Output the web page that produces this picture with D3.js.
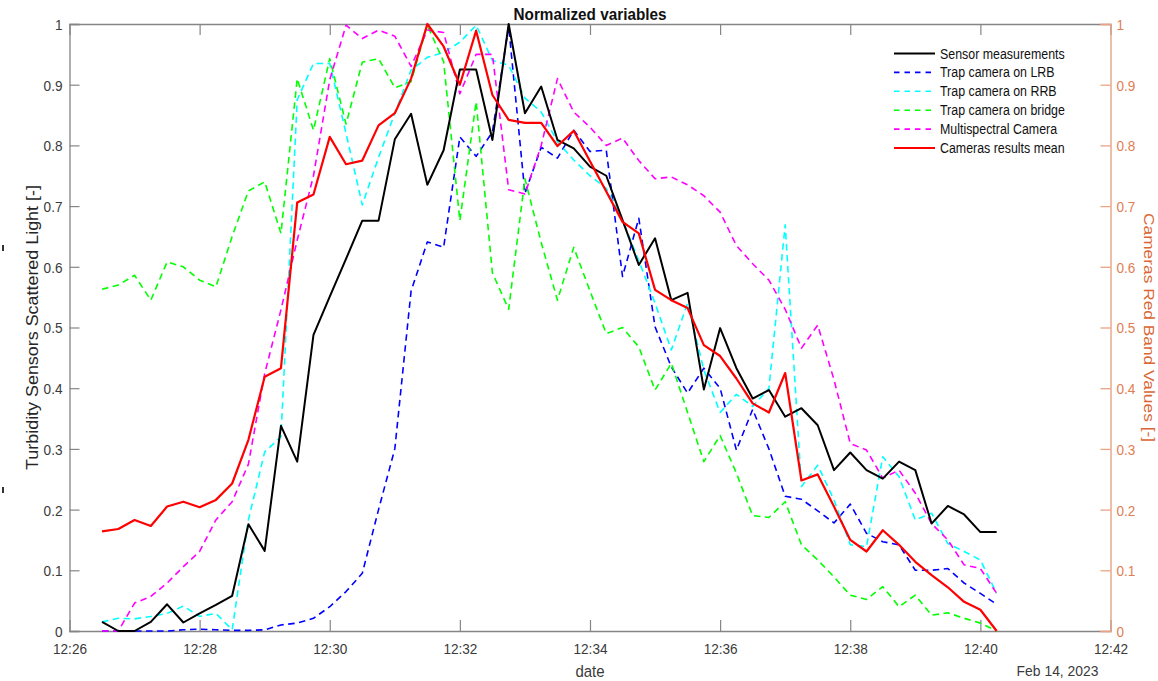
<!DOCTYPE html>
<html>
<head>
<meta charset="utf-8">
<script src="https://cdn.jsdelivr.net/npm/d3@7"></script>
<style>
  html, body { margin: 0; padding: 0; background: #fff; }
  svg { display: block; }
  text { font-family: "Liberation Sans", Arial, Helvetica, sans-serif; }
</style>
</head>
<body>
<svg id="chart" width="1158" height="681"></svg>
<script>
// ---------------- DATA ----------------
const dateStr = "2023-02-14";
const times = [
  "12:26:30","12:26:45","12:27:00","12:27:15","12:27:30","12:27:45","12:28:00","12:28:15",
  "12:28:30","12:28:45","12:29:00","12:29:15","12:29:30","12:29:45","12:30:00","12:30:15",
  "12:30:30","12:30:45","12:31:00","12:31:15","12:31:30","12:31:45","12:32:00","12:32:15",
  "12:32:30","12:32:45","12:33:00","12:33:15","12:33:30","12:33:45","12:34:00","12:34:15",
  "12:34:30","12:34:45","12:35:00","12:35:15","12:35:30","12:35:45","12:36:00","12:36:15",
  "12:36:30","12:36:45","12:37:00","12:37:15","12:37:30","12:37:45","12:38:00","12:38:15",
  "12:38:30","12:38:45","12:39:00","12:39:15","12:39:30","12:39:45","12:40:00","12:40:15"
];
const sensorMeasurements = [
  0.015,0.0,0.0,0.015,0.044,0.014,0.029,0.043,0.058,0.176,0.132,0.338,0.279,0.488,0.551,0.613,
  0.676,0.676,0.81,0.852,0.735,0.792,0.925,0.925,0.809,1.0,0.853,0.897,0.809,0.795,0.765,0.75,
  0.677,0.603,0.647,0.545,0.557,0.398,0.499,0.433,0.383,0.397,0.353,0.367,0.339,0.265,0.294,0.265,
  0.251,0.279,0.265,0.177,0.206,0.192,0.163,0.163
];
const trapCameraLRB = [
  0,0,0,0,0,0.002,0.003,0.002,0.001,0.001,0.002,0.01,0.013,0.021,0.04,0.065,
  0.095,0.2,0.3,0.56,0.641,0.632,0.814,0.782,0.822,0.996,0.721,0.797,0.779,0.825,0.79,0.792,
  0.584,0.68,0.501,0.435,0.392,0.433,0.4,0.298,0.365,0.3,0.222,0.217,0.198,0.178,0.209,0.161,
  0.147,0.142,0.1,0.1,0.103,0.079,0.062,0.044
];
const trapCameraRRB = [
  0.015,0.021,0.02,0.024,0.029,0.041,0.024,0.029,0.002,0.183,0.295,0.32,0.875,0.935,0.935,0.82,
  0.702,0.78,0.853,0.924,0.945,0.953,0.97,0.998,0.94,0.932,0.878,0.855,0.806,0.776,0.75,0.729,
  0.677,0.61,0.54,0.463,0.54,0.43,0.36,0.39,0.37,0.40,0.669,0.238,0.273,0.216,0.142,0.139,
  0.287,0.254,0.183,0.194,0.144,0.131,0.117,0.062
];
const trapCameraBridge = [
  0.563,0.57,0.586,0.545,0.608,0.6,0.578,0.567,0.65,0.725,0.74,0.655,0.91,0.825,0.943,0.835,
  0.937,0.943,0.895,0.905,0.998,0.938,0.676,0.872,0.59,0.53,0.745,0.64,0.545,0.632,0.56,0.49,
  0.5,0.468,0.397,0.441,0.36,0.279,0.322,0.26,0.19,0.187,0.213,0.142,0.117,0.089,0.059,0.052,
  0.073,0.04,0.059,0.026,0.03,0.021,0.013,0.0
];
const multispectralCamera = [
  0,0,0.046,0.057,0.079,0.106,0.131,0.183,0.213,0.275,0.424,0.529,0.644,0.75,0.908,0.998,
  0.976,0.99,0.98,0.93,0.99,0.986,0.885,0.95,0.95,0.727,0.72,0.8,0.91,0.855,0.83,0.8,
  0.812,0.775,0.745,0.748,0.735,0.717,0.69,0.635,0.605,0.578,0.53,0.466,0.504,0.414,0.309,0.298,
  0.252,0.265,0.227,0.177,0.15,0.109,0.103,0.062
];
const camerasResultsMean = [
  0.164,0.168,0.183,0.173,0.205,0.213,0.204,0.216,0.243,0.315,0.419,0.433,0.706,0.719,0.814,0.769,
  0.775,0.833,0.853,0.91,1.0,0.963,0.9,0.989,0.883,0.842,0.837,0.837,0.799,0.824,0.774,0.724,
  0.674,0.655,0.562,0.545,0.532,0.471,0.453,0.416,0.375,0.36,0.425,0.248,0.258,0.205,0.15,0.131,
  0.166,0.142,0.114,0.092,0.072,0.048,0.035,0.0
];
const seriesNames = ["Sensor measurements","Trap camera on LRB","Trap camera on RRB",
  "Trap camera on bridge","Multispectral Camera","Cameras results mean"];
const xTickLabels = ["12:26","12:28","12:30","12:32","12:34","12:36","12:38","12:40","12:42"];
const yTickValues = [0,0.1,0.2,0.3,0.4,0.5,0.6,0.7,0.8,0.9,1];
const titleText = "Normalized variables";
const xLabelText = "date";
const dateLabelText = "Feb 14, 2023";
const yLeftLabelText = "Turbidity Sensors Scattered Light [-]";
const yRightLabelText = "Cameras Red Band Values [-]";

// ---------------- LAYOUT ----------------
const L = 69.5, R = 1110.5, T = 24, B = 631;
const SY = 1.12; // vertical text stretch of the reference
const axisGray = "#858585", labelGray = "#3a3a3a";
const orangeLine = "#EAA384", orangeText = "#DF7E52", orangeLabel = "#DA6634";

const parse = d3.timeParse("%Y-%m-%d %H:%M:%S");
const parseTick = d3.timeParse("%Y-%m-%d %H:%M");
const tDates = times.map(t => parse(dateStr + " " + t));
const xTicks = xTickLabels.map(t => parseTick(dateStr + " " + t));

const svg = d3.select("#chart");

const x = d3.scaleTime().domain([xTicks[0], xTicks[xTicks.length - 1]]).range([L, R]);
const yL = d3.scaleLinear().domain([0, 1]).range([B, T]);
const yR = d3.scaleLinear().domain([0, 1]).range([B, T]);
const fmtY = d => String(Math.round(d * 10) / 10);
const fmtX = d3.timeFormat("%H:%M");

// ---------------- AXES ----------------
const gB = svg.append("g").attr("transform", `translate(0,${B})`)
  .call(d3.axisBottom(x).tickValues(xTicks).tickSize(-11).tickFormat(fmtX));
const gT = svg.append("g").attr("transform", `translate(0,${T})`)
  .call(d3.axisTop(x).tickValues(xTicks).tickSize(-11).tickFormat(""));
const gL = svg.append("g").attr("transform", `translate(${L},0)`)
  .call(d3.axisLeft(yL).tickValues(yTickValues).tickSize(-10).tickFormat(fmtY));
const gR = svg.append("g").attr("transform", `translate(${R},0)`)
  .call(d3.axisRight(yR).tickValues(yTickValues).tickSize(-10).tickFormat(fmtY));

[gB, gT, gL].forEach(g => {
  g.select(".domain").attr("stroke", axisGray).attr("stroke-width", 1.3);
  g.selectAll(".tick line").attr("stroke", axisGray).attr("stroke-width", 1.2);
});
gT.selectAll(".tick").filter((d, i) => i === 0 || i === xTicks.length - 1).select("line").remove();
gB.selectAll(".tick").filter((d, i) => i === 0 || i === xTicks.length - 1).select("line").remove();
gR.select(".domain").attr("stroke", orangeLine).attr("stroke-width", 1.4);
gR.selectAll(".tick line").attr("stroke", orangeLine).attr("stroke-width", 1.3);

gB.selectAll("text").attr("y", 0).attr("dy", null)
  .attr("transform", `translate(0,23) scale(1,${SY})`)
  .attr("font-size", 13.6).attr("fill", labelGray).attr("font-family", null);
gL.selectAll("text").attr("x", 0).attr("dy", null)
  .attr("transform", `translate(-7,5.4) scale(1,${SY})`)
  .attr("font-size", 13.6).attr("fill", labelGray).attr("font-family", null);
gR.selectAll("text").attr("x", 0).attr("dy", null)
  .attr("transform", `translate(6,5.4) scale(1,${SY})`)
  .attr("font-size", 13.6).attr("fill", orangeText).attr("font-family", null);

// ---------------- LINES ----------------
const mk = (arr) => arr.map((v, i) => ({ t: tDates[i], v }));
const lineL = d3.line().x(d => x(d.t)).y(d => yL(d.v));
const lineR = d3.line().x(d => x(d.t)).y(d => yR(d.v));

const series = [
  { name: seriesNames[0], data: sensorMeasurements, color: "#000000", dash: null, w: 2.0, line: lineL },
  { name: seriesNames[1], data: trapCameraLRB, color: "#0000FF", dash: "6.5,4.5", w: 1.6, line: lineR },
  { name: seriesNames[2], data: trapCameraRRB, color: "#00FFFF", dash: "6.5,4.5", w: 1.6, line: lineR },
  { name: seriesNames[3], data: trapCameraBridge, color: "#00FF00", dash: "6.5,4.5", w: 1.6, line: lineR },
  { name: seriesNames[4], data: multispectralCamera, color: "#FF00FF", dash: "6.5,4.5", w: 1.6, line: lineR },
  { name: seriesNames[5], data: camerasResultsMean, color: "#FF0000", dash: null, w: 2.2, line: lineR }
];

const drawOrder = [1, 2, 3, 4, 0, 5];
drawOrder.forEach(k => {
  const s = series[k];
  svg.append("path")
    .attr("d", s.line(mk(s.data)))
    .attr("fill", "none")
    .attr("stroke", s.color)
    .attr("stroke-width", s.w)
    .attr("stroke-dasharray", s.dash)
    .attr("stroke-linejoin", "round");
});

// ---------------- TEXT ----------------
function htext(str, tx, ty, size, anchor, fill, weight) {
  return svg.append("text")
    .attr("transform", `translate(${tx},${ty}) scale(1,${SY})`)
    .attr("text-anchor", anchor).attr("font-size", size)
    .attr("fill", fill).attr("font-weight", weight || "normal")
    .text(str);
}
htext(titleText, 590, 19.5, 15.3, "middle", "#111", "bold");
htext(xLabelText, 590, 676.5, 15, "middle", labelGray);
htext(dateLabelText, 1098.5, 676, 13.9, "end", labelGray);

svg.append("text")
  .attr("transform", `translate(38,327.5) rotate(-90) scale(${SY},1)`)
  .attr("text-anchor", "middle").attr("font-size", 16)
  .attr("fill", "#262626").text(yLeftLabelText);
svg.append("text")
  .attr("transform", `translate(1143.5,327.5) rotate(90) scale(${SY},1)`)
  .attr("text-anchor", "middle").attr("font-size", 15.5)
  .attr("fill", orangeLabel).text(yRightLabelText);

// ---------------- LEGEND ----------------
const legX0 = 894, legX1 = 935, legTextX = 940, legY0 = 53.5, legDY = 18.9;
series.forEach((s, i) => {
  const yy = legY0 + i * legDY;
  svg.append("line")
    .attr("x1", legX0).attr("x2", legX1).attr("y1", yy).attr("y2", yy)
    .attr("stroke", s.color).attr("stroke-width", s.dash ? 1.6 : 2.2)
    .attr("stroke-dasharray", s.dash ? "5.5,5" : null);
  htext(s.name, legTextX, yy + 5, 12.4, "start", "#111");
});

// small marks at the left edge of the reference crop
[248, 490].forEach(yy => {
  svg.append("line").attr("x1", 3).attr("x2", 3).attr("y1", yy - 3).attr("y2", yy + 3)
    .attr("stroke", "#333").attr("stroke-width", 2);
});
</script>
</body>
</html>
